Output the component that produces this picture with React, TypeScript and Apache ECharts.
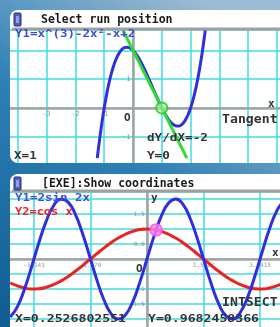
import React, { useEffect, useRef } from 'react';
import * as echarts from 'echarts';

// Top screen: Y1 = x^3 - 2x^2 - x + 2 and its tangent at x = 1
const TOP_X = [-1.24, -1.2, -1.1, -1.0, -0.9, -0.8, -0.7, -0.6, -0.5, -0.4, -0.3, -0.2, -0.1, 0, 0.1, 0.2, 0.3, 0.4, 0.5, 0.6, 0.7, 0.8, 0.9, 1.0, 1.1, 1.2, 1.3, 1.4, 1.5, 1.6, 1.7, 1.8, 1.9, 2.0, 2.1, 2.2, 2.3, 2.4, 2.5, 2.51];
const TOP_Y = [-1.74, -1.408, -0.651, 0, 0.551, 1.008, 1.377, 1.664, 1.875, 2.016, 2.093, 2.112, 2.079, 2, 1.881, 1.728, 1.547, 1.344, 1.125, 0.896, 0.663, 0.432, 0.209, 0, -0.189, -0.352, -0.483, -0.576, -0.625, -0.624, -0.567, -0.448, -0.261, 0, 0.341, 0.768, 1.287, 1.904, 2.625, 2.703];
const TANGENT_X = [-0.35, 1.87];
const TANGENT_Y = [2.7, -1.74];
const TANGENT_POINT = [1, 0];
const TOP_X_TICKS = [-3, -2, -1];
const TOP_X_LABELS = ['-3', '-2', '-1'];
const TOP_Y_TICKS = [1, -1];
const TOP_Y_LABELS = ['1', '-1'];

// Bottom screen: Y1 = 2 sin 2x, Y2 = cos x
const BOT_X = [-3.8, -3.6, -3.4, -3.2, -3.0, -2.8, -2.6, -2.4, -2.2, -2.0, -1.8, -1.6, -1.4, -1.2, -1.0, -0.8, -0.6, -0.4, -0.2, 0, 0.2, 0.4, 0.6, 0.8, 1.0, 1.2, 1.4, 1.6, 1.8, 2.0, 2.2, 2.4, 2.6, 2.8, 3.0, 3.2, 3.4, 3.6, 3.8];
const SIN_Y = [-1.936, -1.587, -0.988, -0.233, 0.559, 1.263, 1.767, 1.992, 1.903, 1.514, 0.885, 0.117, -0.670, -1.351, -1.819, -1.999, -1.864, -1.435, -0.779, 0, 0.779, 1.435, 1.864, 1.999, 1.819, 1.351, 0.670, -0.117, -0.885, -1.514, -1.903, -1.992, -1.767, -1.263, -0.559, 0.233, 0.988, 1.587, 1.936];
const COS_Y = [-0.791, -0.897, -0.967, -0.998, -0.990, -0.942, -0.857, -0.737, -0.589, -0.416, -0.227, -0.029, 0.170, 0.362, 0.540, 0.697, 0.825, 0.921, 0.980, 1, 0.980, 0.921, 0.825, 0.697, 0.540, 0.362, 0.170, -0.029, -0.227, -0.416, -0.589, -0.737, -0.857, -0.942, -0.990, -0.998, -0.967, -0.897, -0.791];
const INTERSECT = [0.2527, 0.9682];
const BOT_X_TICKS = [-3.1416, -1.5708, 1.5708, 3.1416];
const BOT_X_LABELS = ['-3.141', '-1.570', '1.5707', '3.1415'];
const BOT_Y_TICKS = [1.5, 1, 0.5, -1, -1.5];
const BOT_Y_LABELS = ['1.5', '1', '0.5', '-1', '-1.5'];

const HALF_PI = 1.5707963;

const pairs = (xs: number[], ys: number[]) => xs.map((x, i) => [x, ys[i]]);

const MONO = '"DejaVu Sans Mono", monospace';

const txt = (text: string, x: number, y: number, size: number, color: string, sx = 1, bold = true) => ({
  type: 'text',
  x,
  y,
  scaleX: sx,
  z: 60,
  style: {
    text,
    x: 0,
    y: 0,
    fill: color,
    fontSize: size,
    fontFamily: MONO,
    fontWeight: bold ? 'bold' : 'normal',
    verticalAlign: 'middle',
  },
});

const bgGrad = () => ({
  type: 'linear',
  x: 0,
  y: 327,
  x2: 200,
  y2: 0,
  global: true,
  colorStops: [
    { offset: 0, color: '#0e5c92' },
    { offset: 0.55, color: '#2d80b6' },
    { offset: 1, color: '#9dbbd2' },
  ],
});

const GRID_COLOR = '#3fdde4';
const AXIS_COLOR = '#a3a3a3';

// tick labels placed at the axis crossing through the axes' own scales
const tickLabels = (axis: number, pts: number[][], labels: string[], position: string, size: number) => ({
  type: 'scatter',
  xAxisIndex: axis,
  yAxisIndex: axis,
  data: pts,
  symbolSize: 1,
  itemStyle: { color: 'rgba(0,0,0,0)' },
  z: 1,
  silent: true,
  label: {
    show: true,
    position,
    distance: 2,
    formatter: (p: any) => labels[p.dataIndex],
    fontSize: size,
    fontFamily: MONO,
    color: '#808080',
  },
});

export default function App() {
  const ref = useRef<HTMLDivElement>(null);
  useEffect(() => {
    const chart = echarts.init(ref.current!, null, { renderer: 'svg', width: 280, height: 327 });
    const axisCommon = {
      axisLine: { onZero: true, lineStyle: { color: AXIS_COLOR, width: 2.5 } },
      axisTick: { show: false },
      axisLabel: { show: false },
      splitLine: { show: true, lineStyle: { color: GRID_COLOR, width: 1.5 } },
    };
    const option: any = {
      animation: false,
      backgroundColor: 'transparent',
      grid: [
        { left: -11, right: -11.4, top: 30.2, bottom: 327 - 165.6, outerBoundsMode: 'none', containLabel: false },
        { left: -22.6, right: -36.6, top: 192, bottom: -7, outerBoundsMode: 'none', containLabel: false },
      ],
      xAxis: [
        { type: 'value', gridIndex: 0, min: -5, max: 5.5, interval: 1, ...axisCommon },
        { type: 'value', gridIndex: 1, min: -3 * HALF_PI, max: 3 * HALF_PI, interval: HALF_PI, ...axisCommon },
      ],
      yAxis: [
        { type: 'value', gridIndex: 0, min: -2, max: 2.7, interval: 1, ...axisCommon },
        { type: 'value', gridIndex: 1, min: -2.5, max: 2.233, interval: 0.5, ...axisCommon },
      ],
      series: [
        tickLabels(0, TOP_X_TICKS.map((v) => [v, 0]), TOP_X_LABELS, 'bottom', 7),
        tickLabels(0, TOP_Y_TICKS.map((v) => [0, v]), TOP_Y_LABELS, 'left', 7),
        tickLabels(1, BOT_X_TICKS.map((v) => [v, 0]), BOT_X_LABELS, 'bottom', 6),
        tickLabels(1, BOT_Y_TICKS.map((v) => [0, v]), BOT_Y_LABELS, 'left', 6),
        {
          type: 'line', xAxisIndex: 0, yAxisIndex: 0, data: pairs(TOP_X, TOP_Y), smooth: true,
          showSymbol: false, lineStyle: { color: '#2f2fe0', width: 3 }, z: 3,
        },
        {
          type: 'line', xAxisIndex: 0, yAxisIndex: 0, data: pairs(TANGENT_X, TANGENT_Y),
          showSymbol: false, lineStyle: { color: '#2fdc2f', width: 3 }, z: 4,
        },
        {
          type: 'scatter', xAxisIndex: 0, yAxisIndex: 0, data: [TANGENT_POINT], symbol: 'circle', symbolSize: 11,
          itemStyle: { color: 'rgba(180,255,180,0.6)', borderColor: '#22cc22', borderWidth: 2 }, z: 5,
        },
        {
          type: 'line', xAxisIndex: 1, yAxisIndex: 1, data: pairs(BOT_X, COS_Y), smooth: true,
          showSymbol: false, lineStyle: { color: '#ef2020', width: 3 }, z: 3,
        },
        {
          type: 'line', xAxisIndex: 1, yAxisIndex: 1, data: pairs(BOT_X, SIN_Y), smooth: true,
          showSymbol: false, lineStyle: { color: '#2f2fe0', width: 3 }, z: 4,
        },
        {
          type: 'scatter', xAxisIndex: 1, yAxisIndex: 1, data: [INTERSECT], symbol: 'circle', symbolSize: 12,
          itemStyle: { color: '#ff80f2', borderColor: '#ff4fe0', borderWidth: 1.5 }, z: 5,
        },
      ],
      graphic: [
        { type: 'rect', z: -20, shape: { x: 0, y: 0, width: 280, height: 327 }, style: { fill: bgGrad() } },
        { type: 'rect', z: -10, shape: { x: 10, y: 10, width: 300, height: 153, r: 8 }, style: { fill: '#ffffff' } },
        { type: 'rect', z: -10, shape: { x: 10, y: 174, width: 300, height: 170, r: 8 }, style: { fill: '#ffffff' } },
        // overlays to hide the grid outside the screens
        { type: 'rect', z: 50, shape: { x: 0, y: 0, width: 10, height: 327 }, style: { fill: bgGrad() } },
        { type: 'rect', z: 50, shape: { x: 0, y: 163, width: 280, height: 11 }, style: { fill: bgGrad() } },
        // title bars
        { type: 'rect', z: 55, shape: { x: 12, y: 27.5, width: 280, height: 3 }, style: { fill: '#a0a0a0' } },
        { type: 'rect', z: 55, shape: { x: 12, y: 189.5, width: 280, height: 3 }, style: { fill: '#a0a0a0' } },
        { type: 'rect', z: 55, shape: { x: 14, y: 13, width: 7, height: 13, r: 1 }, style: { fill: '#4d5fc0', stroke: '#2a2f60', lineWidth: 1 } },
        { type: 'rect', z: 56, shape: { x: 16, y: 16, width: 3, height: 7 }, style: { fill: '#8fa0e8' } },
        { type: 'rect', z: 55, shape: { x: 14, y: 177, width: 7, height: 13, r: 1 }, style: { fill: '#4d5fc0', stroke: '#2a2f60', lineWidth: 1 } },
        { type: 'rect', z: 56, shape: { x: 16, y: 180, width: 3, height: 7 }, style: { fill: '#8fa0e8' } },
        txt('Select run position', 41, 19, 11.5, '#1a1a1a'),
        txt('[EXE]:Show coordinates', 42, 183, 11.5, '#1a1a1a'),
        // top screen texts
        txt('Y1=x^(3)-2x²-x+2', 15, 33.5, 10, '#3a4fd8', 1.25),
        txt('dY/dX=-2', 147, 137, 11, '#333333', 1.15),
        txt('X=1', 14, 155, 11, '#333333', 1.15),
        txt('Y=0', 147, 155, 11, '#333333', 1.15),
        txt('Tangent', 222, 119, 12, '#333333', 1.1),
        txt('x', 268, 103, 11, '#333333'),
        txt('O', 124, 117, 11, '#333333'),
        // bottom screen texts
        txt('Y1=2sin 2x', 15, 198, 10, '#3a4fd8', 1.25),
        txt('Y2=cos x', 15, 212, 10, '#ee2222', 1.2),
        txt('y', 151, 197, 11, '#333333'),
        txt('x', 272, 252, 11, '#333333'),
        txt('O', 136, 268, 11, '#333333'),
        txt('INTSECT', 222, 302, 11.5, '#333333', 1.15),
        txt('X=0.2526802551', 15, 318, 11, '#333333', 1.2),
        txt('Y=0.9682458366', 148, 318, 11, '#333333', 1.2),
      ],
    };
    chart.setOption(option);
    return () => chart.dispose();
  }, []);
  return <div ref={ref} style={{ position: 'fixed', left: 0, top: 0, width: 280, height: 327 }} />;
}
